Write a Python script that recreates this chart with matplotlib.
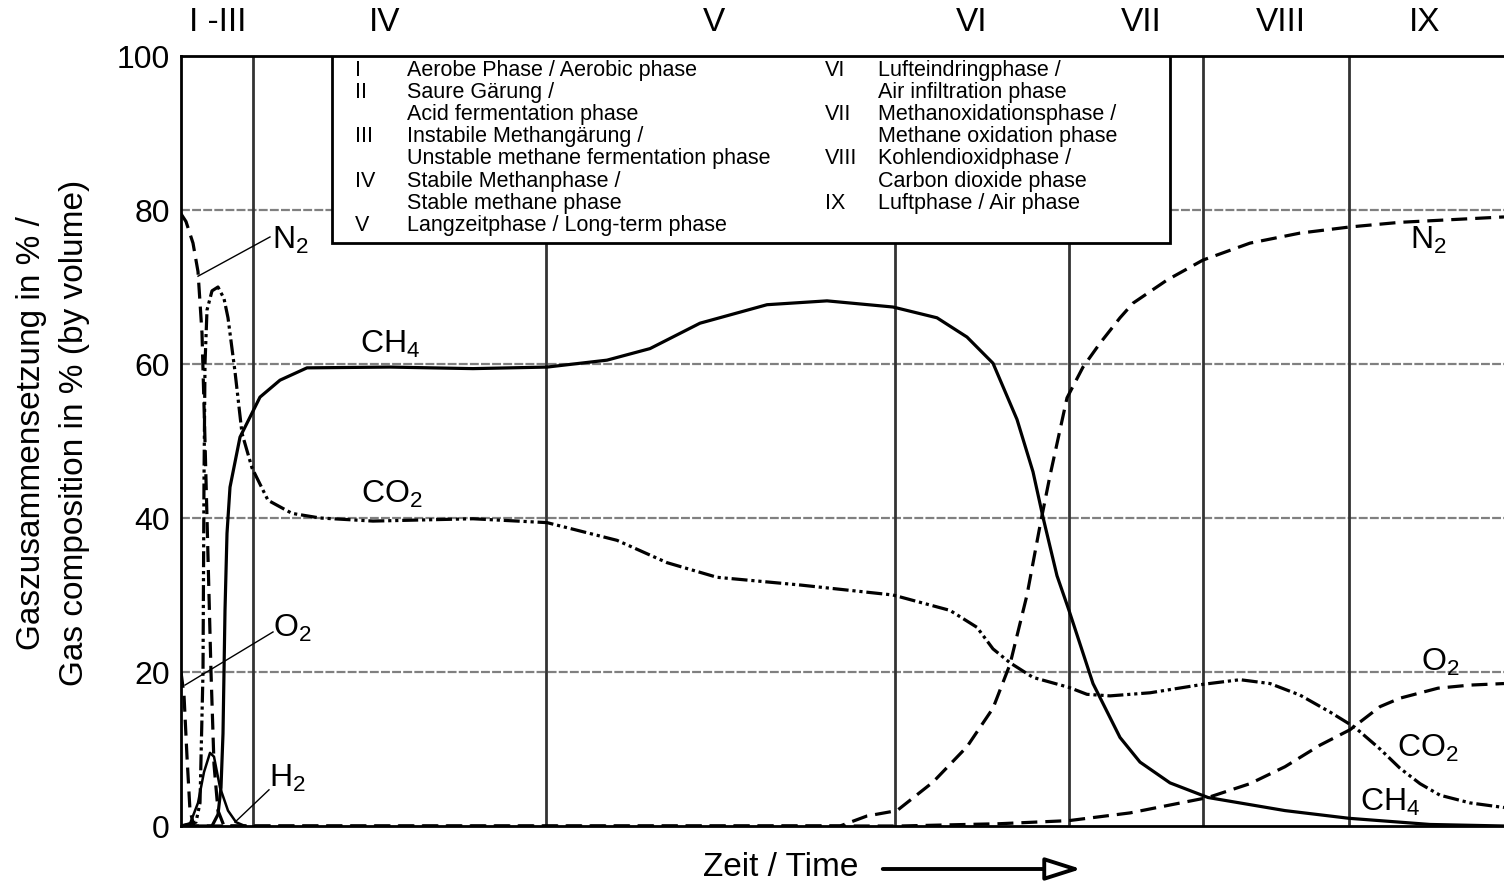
import matplotlib
matplotlib.use("Agg")
import matplotlib.pyplot as plt
from matplotlib.patches import Rectangle, FancyArrowPatch

plt.rcParams['font.family'] = ['Liberation Sans', 'DejaVu Sans']

# time axis in arbitrary units (0 .. 1323)
phase_bounds = [72, 365, 714, 888, 1022, 1168]
phase_names = ["I -III", "IV", "V", "VI", "VII", "VIII", "IX"]
phase_pos = [37, 204, 533, 791, 960, 1100, 1244]

t_ch4 = [0, 31, 37, 40, 42, 44, 46, 49, 59, 79, 99, 126, 209, 292, 366, 426, 469, 519,
         586, 646, 712, 756, 786, 812, 836, 852, 862, 876, 888, 912, 939, 959, 989,
         1027, 1104, 1168, 1249, 1323]
ch4 = [0, 0, 1.5, 5, 12, 28, 38, 44, 50.5, 55.7, 57.9, 59.5, 59.6, 59.4, 59.6, 60.5, 62,
       65.3, 67.7, 68.2, 67.4, 66, 63.5, 60.1, 52.8, 46, 40.1, 32.5, 28, 18.5, 11.5, 8.3,
       5.6, 3.7, 2, 1, 0.2, 0]

t_co2 = [0, 15, 19, 22, 23, 24, 26, 31, 37, 43, 47, 54, 61, 71, 87, 111, 139, 192, 292,
         366, 436, 486, 536, 619, 712, 769, 796, 812, 829, 852, 888, 906, 929, 969, 1022,
         1059, 1089, 1119, 1149, 1174, 1199, 1219, 1239, 1259, 1289, 1323]
co2 = [0, 0.5, 3, 20, 45, 60, 67, 69.5, 70, 68.5, 66, 59, 51, 46.5, 42.3, 40.6, 40, 39.6,
       39.9, 39.4, 37.1, 34.2, 32.3, 31.3, 30, 28, 25.8, 23, 21.2, 19.3, 18, 17.1, 16.9,
       17.3, 18.4, 19, 18.5, 17, 14.8, 12.8, 10, 7.5, 5.5, 4, 3, 2.4]

t_n2 = [0, 5, 12, 17, 21, 24, 27, 30, 33, 37, 43, 659, 686, 716, 752, 786, 812, 829, 846,
        859, 869, 886, 902, 919, 939, 952, 986, 1022, 1069, 1119, 1169, 1219, 1323]
n2 = [79.5, 78.5, 75.7, 72, 64, 50, 35, 20, 8, 2, 0, 0, 1.3, 2, 5.7, 10.3, 15.3, 21, 30,
      39, 45.5, 55.6, 59.6, 62.7, 66, 67.9, 70.9, 73.5, 75.7, 77, 77.8, 78.4, 79.1]

t_o2 = [0, 3, 6, 9, 13, 719, 819, 888, 949, 1027, 1069, 1104, 1139, 1169, 1199, 1219,
        1257, 1289, 1323]
o2 = [20, 17, 9, 2, 0, 0, 0.3, 0.7, 1.7, 3.7, 5.5, 7.7, 10.5, 12.5, 15.5, 16.6, 17.9,
      18.3, 18.5]

t_h2 = [0, 9, 17, 23, 29, 33, 39, 47, 55, 64]
h2 = [0, 0.3, 3, 7, 9.5, 9, 5, 2, 0.5, 0]

legend_left = [("I", "Aerobe Phase / Aerobic phase"),
               ("II", "Saure Gärung /"),
               ("", "Acid fermentation phase"),
               ("III", "Instabile Methangärung /"),
               ("", "Unstable methane fermentation phase"),
               ("IV", "Stabile Methanphase /"),
               ("", "Stable methane phase"),
               ("V", "Langzeitphase / Long-term phase")]
legend_right = [("VI", "Lufteindringphase /"),
                ("", "Air infiltration phase"),
                ("VII", "Methanoxidationsphase /"),
                ("", "Methane oxidation phase"),
                ("VIII", "Kohlendioxidphase /"),
                ("", "Carbon dioxide phase"),
                ("IX", "Luftphase / Air phase")]

fig = plt.figure(figsize=(15.04, 8.84), dpi=100)
ax = fig.add_axes([181/1504, 1 - 826/884, 1 - 181/1504, 770/884])
ax.set_xlim(0, 1323)
ax.set_ylim(0, 100)

for y in [20, 40, 60, 80]:
    ax.axhline(y, color='#808080', lw=1.6, ls=(0, (4, 1)), zorder=1)
for xb in phase_bounds:
    ax.axvline(xb, color='#333333', lw=2, zorder=1)

lw = 2.3
ax.plot(t_ch4, ch4, color='black', lw=lw, zorder=3)
ax.plot(t_co2, co2, color='black', lw=lw, ls=(0, (5, 1.2, 1, 1.2, 1, 1.2)), zorder=3)
ax.plot(t_n2, n2, color='black', lw=lw, ls=(0, (5, 2.5)), zorder=3)
ax.plot(t_o2, o2, color='black', lw=lw, ls=(0, (5, 2.5)), zorder=3)
ax.plot(t_h2, h2, color='black', lw=1.8, zorder=3)

# gas labels
fs = 23
lab = dict(ha='center', va='center', fontsize=fs, zorder=5)
ax.text(109, 76.1, r'$\mathregular{N_2}$', **lab)
ax.text(111, 25.7, r'$\mathregular{O_2}$', **lab)
ax.text(106, 6.2, r'$\mathregular{H_2}$', **lab)
ax.text(209, 62.5, r'$\mathregular{CH_4}$', **lab)
ax.text(211, 43.0, r'$\mathregular{CO_2}$', **lab)
ax.text(1247, 76.1, r'$\mathregular{N_2}$', **lab)
ax.text(1259, 21.3, r'$\mathregular{O_2}$', **lab)
ax.text(1247, 10.1, r'$\mathregular{CO_2}$', **lab)
ax.text(1209, 3.0, r'$\mathregular{CH_4}$', **lab)
ax.plot([89, 17], [76.5, 71.4], color='black', lw=1, zorder=4)
ax.plot([92, 4], [25.2, 18.3], color='black', lw=1, zorder=4)
ax.plot([88, 54], [4.7, 0.5], color='black', lw=1, zorder=4)

# phase names on top
for name, xp in zip(phase_names, phase_pos):
    ax.text(xp, 104.3, name, ha='center', va='center', fontsize=24, clip_on=False)

# legend box
ax.add_patch(Rectangle((151, 75.7), 838, 24.3, facecolor='white', edgecolor='black',
                       lw=2, zorder=6))
row_y = [98.1, 95.3, 92.4, 89.5, 86.7, 83.7, 80.8, 78.0]
lfs = 15.5
for (num, txt), yy in zip(legend_left, row_y):
    ax.text(174, yy, num, ha='left', va='center', fontsize=lfs, zorder=7)
    ax.text(226, yy, txt, ha='left', va='center', fontsize=lfs, zorder=7)
for (num, txt), yy in zip(legend_right, row_y):
    ax.text(644, yy, num, ha='left', va='center', fontsize=lfs, zorder=7)
    ax.text(697, yy, txt, ha='left', va='center', fontsize=lfs, zorder=7)

ax.set_xticks([])
ax.set_yticks([0, 20, 40, 60, 80, 100])
ax.tick_params(axis='y', length=0, pad=8, labelsize=23)
for s in ['left', 'top', 'bottom']:
    ax.spines[s].set_linewidth(2)
ax.spines['right'].set_visible(False)

fig.text(32/1504, 1 - 433/884, "Gaszusammensetzung in % /", rotation=90,
         ha='center', va='center', fontsize=24)
fig.text(75/1504, 1 - 433/884, "Gas composition in % (by volume)", rotation=90,
         ha='center', va='center', fontsize=24)
fig.text(781/1504, 1 - 868/884, "Zeit / Time", ha='center', va='center', fontsize=24)
arrow = FancyArrowPatch((880/1504, 1 - 869/884), (1084/1504, 1 - 869/884),
                        transform=fig.transFigure,
                        arrowstyle='-|>,head_length=1.1,head_width=0.35',
                        mutation_scale=20, lw=2.8, facecolor='white', edgecolor='black')
fig.patches.append(arrow)

plt.savefig('out.png', dpi=100)
plt.close()
